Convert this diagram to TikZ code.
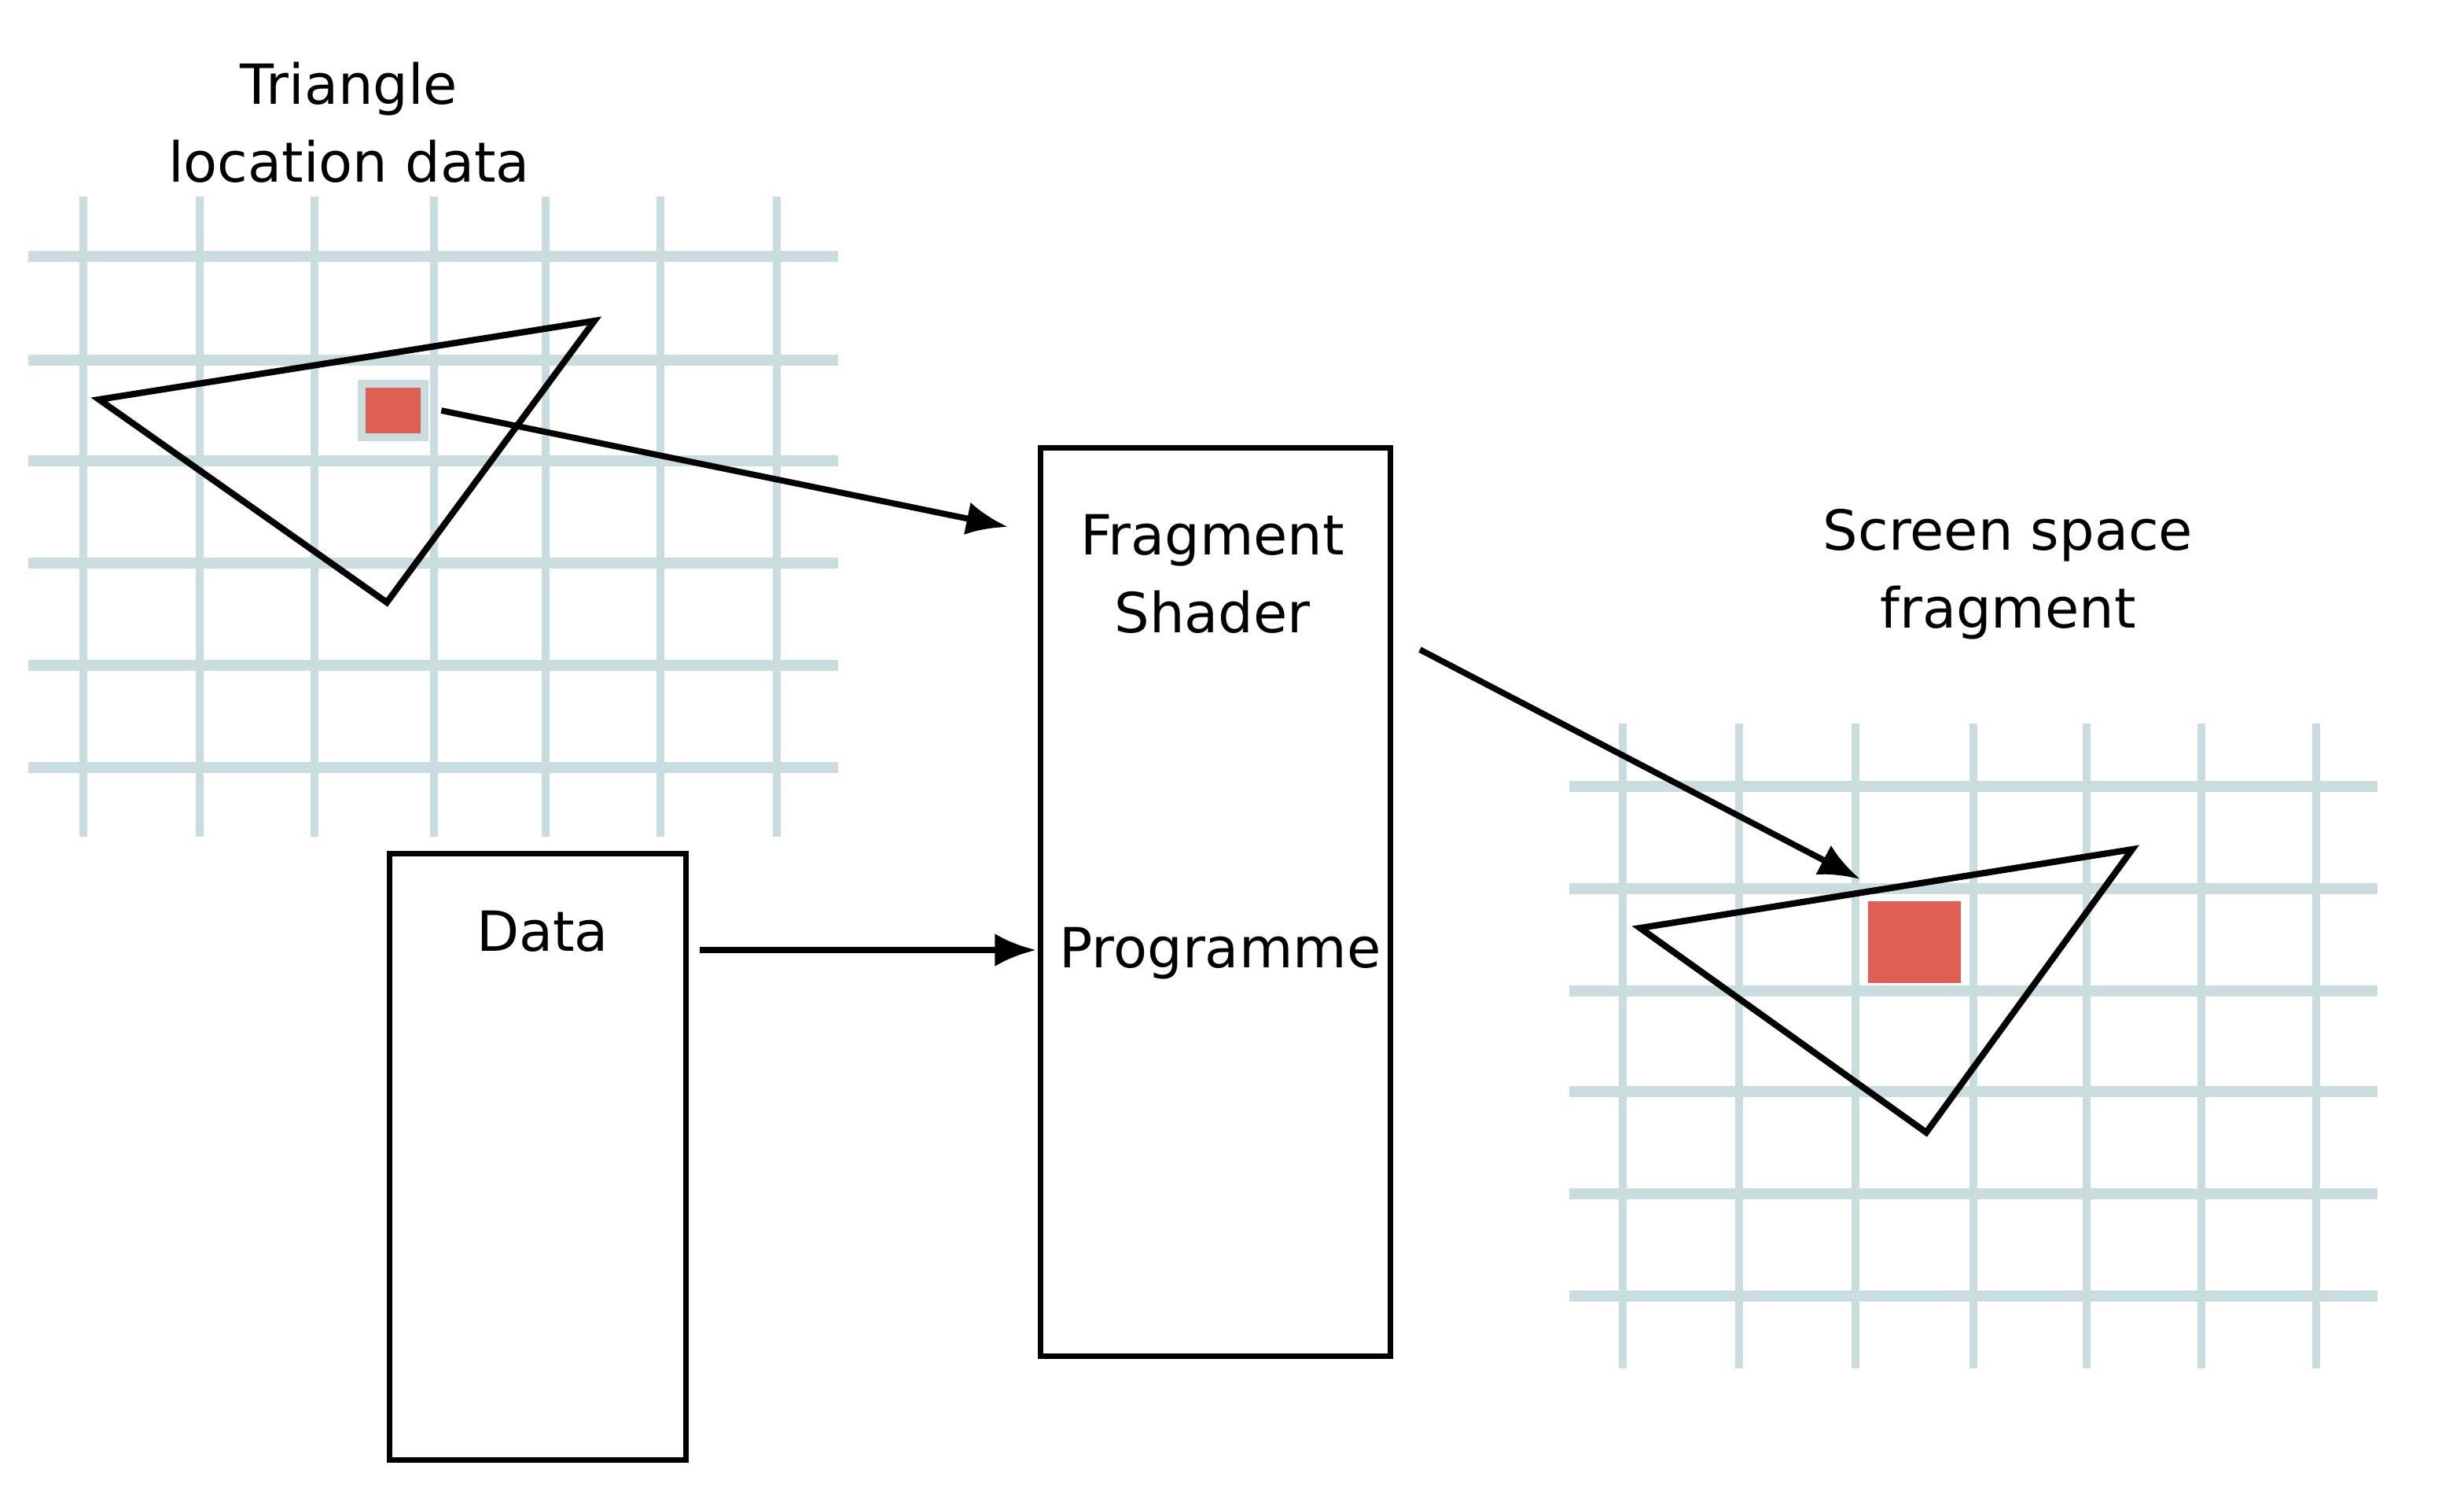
\documentclass[tikz,border=0pt]{standalone}
\usepackage{fontspec}
\setmainfont{DejaVu Sans}
\usepackage{xcolor}
\usetikzlibrary{
    arrows.meta,
    calc,
    positioning
}
\definecolor{gridcol}{RGB}{201,221,222}
\definecolor{fragred}{RGB}{223,95,84}

\tikzset{
    hline/.style={draw=gridcol, line width=2pt},
    vline/.style={draw=gridcol, line width=1.5pt},
    tri/.style={draw=black, line width=1.15pt, line join=miter},
    box/.style={draw=black, line width=1pt, rectangle, inner sep=0pt},
    txt/.style={font=\fontsize{10}{14}\selectfont, align=center, inner sep=0pt},
    arr/.style={-{Latex[length=7.5pt, width=6pt]}, line width=1.1pt}
}

\begin{document}
\begin{tikzpicture}[x=0.01cm, y=-0.01cm]
    \useasboundingbox (0, 0) rectangle (1567, 957);

    % triangle location data
    \foreach \y in {163, 229, 293, 358, 423, 488}
        \draw[hline] (18, \y) -- (533, \y);
    \foreach \x in {53, 127, 200, 276, 347, 420, 494}
        \draw[vline] (\x, 125) -- (\x, 532);
    \draw[tri] (63, 254) -- (378, 204) -- (246, 383) -- cycle;
    \node[fill=fragred, draw=gridcol, line width=1.5pt, minimum width=0.4cm, minimum height=0.34cm, inner sep=0pt] (srcfrag) at (250, 261) {};
    \node[txt] (srctitle) at (222, 78) {Triangle\\location data};

    % screen space fragment
    \foreach \y in {500, 565, 630, 694, 759, 824}
        \draw[hline] (998, \y) -- (1512, \y);
    \foreach \x in {1032, 1106, 1180, 1255, 1327, 1400, 1473}
        \draw[vline] (\x, 460) -- (\x, 870);
    \draw[tri] (1043, 590) -- (1356, 540) -- (1225, 720) -- cycle;
    \node[fill=fragred, minimum width=0.59cm, minimum height=0.52cm, inner sep=0pt] (dstfrag) at (1217.5, 599) {};
    \node[txt] (dsttitle) at (1277, 365) {Screen space\\fragment};

    % shader and data
    \node[box, minimum width=2.22cm, minimum height=5.77cm] (shader) at (773, 573.5) {};
    \node[txt] (shadername) at (771, 365) {Fragment\\Shader};
    \node[txt] (prog) at (776, 606) {Programme};
    \node[box, minimum width=1.88cm, minimum height=3.85cm] (data) at (342, 735.5) {};
    \node[txt] (dataname) at (345, 592) {Data};

    % arrows
    \coordinate (shaderin) at (641, 335);
    \coordinate (progin) at (659, 604);
    \coordinate (shaderout) at (903, 413);
    \coordinate (dstin) at (1183, 559);
    \draw[arr] ($(srcfrag.east)+(8, 0)$) -- (shaderin);
    \draw[arr] ($(data.east |- progin)+(7, 0)$) -- (progin);
    \draw[arr] (shaderout) -- (dstin);
\end{tikzpicture}
\end{document}
